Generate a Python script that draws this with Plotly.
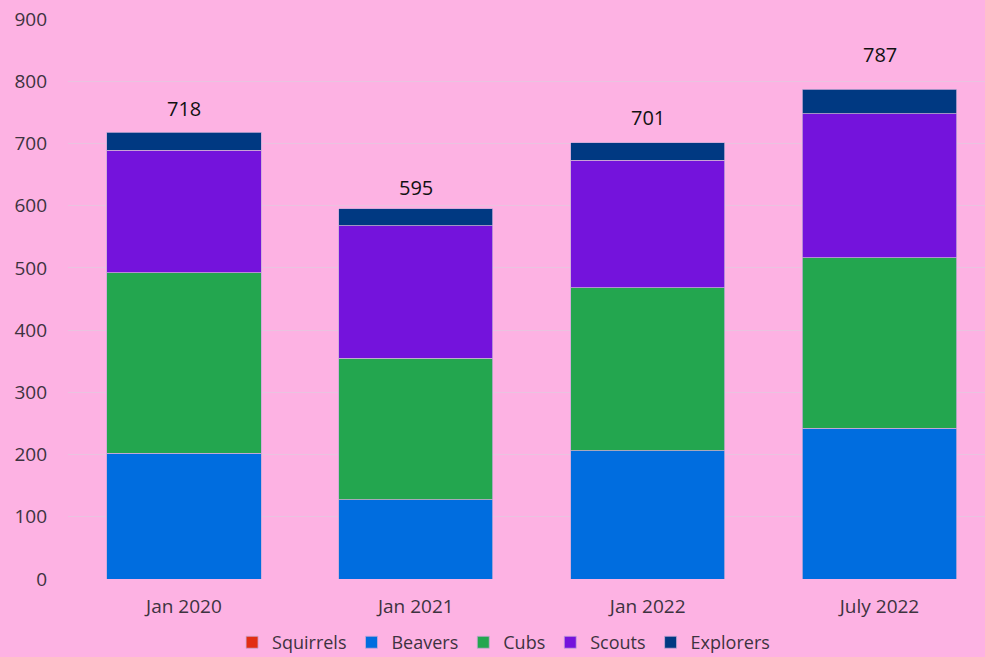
import plotly.graph_objects as go

categories = ["Jan 2020", "Jan 2021", "Jan 2022", "July 2022"]
squirrels = [0, 0, 0, 0]
beavers = [202, 127, 206, 242]
cubs = [290, 228, 262, 274]
scouts = [197, 213, 205, 232]
explorers = [29, 27, 28, 39]

series = [
    ("Squirrels", squirrels, "#E22E12"),
    ("Beavers", beavers, "#006DDF"),
    ("Cubs", cubs, "#23A64F"),
    ("Scouts", scouts, "#7413DC"),
    ("Explorers", explorers, "#003982"),
]

totals = [sum(v) for v in zip(squirrels, beavers, cubs, scouts, explorers)]
label_shift = [24, 21, 25, 35]

FONT = "Open Sans"
TICK = "#3d3340"
fig = go.Figure()
for name, vals, col in series:
    fig.add_trace(go.Bar(
        x=categories, y=vals, name=name,
        marker=dict(color=col, line=dict(color="#C9A9D6", width=0.8)),
        width=0.665,
    ))

for c, t, s in zip(categories, totals, label_shift):
    fig.add_annotation(x=c, y=t, text=str(t), showarrow=False,
                       yanchor="middle", yshift=s,
                       font=dict(family=FONT, size=20, color="#111111"))

fig.update_layout(
    barmode="stack",
    width=985, height=657,
    paper_bgcolor="#FDB2E3",
    plot_bgcolor="#FDB2E3",
    margin=dict(l=68, r=0, t=19, b=78),
    font=dict(family=FONT, size=19, color=TICK),
    xaxis=dict(type="category", range=[-0.5, 3.455], showgrid=False,
               showline=False, ticks="", ticklabelstandoff=14, automargin=False,
               tickfont=dict(size=19, color=TICK)),
    yaxis=dict(range=[0, 900], dtick=100, showgrid=True, gridcolor="#EAC3E0",
               gridwidth=1, zeroline=False, showline=False, ticks="", automargin=False,
               tickfont=dict(size=19, color=TICK), ticklabelstandoff=20),
    legend=dict(orientation="h", x=0.475, xanchor="center",
                yref="container", y=0.022, yanchor="middle",
                traceorder="normal", font=dict(size=18, color=TICK),
                bgcolor="rgba(0,0,0,0)", itemwidth=30),
    showlegend=True,
)

fig.write_html("out.html", config={"displayModeBar": False})
with open("out.html", encoding="utf-8") as f:
    html = f.read()
html = html.replace("<head>", "<head><style>html,body{margin:0;padding:0;overflow:hidden;}</style>", 1)
with open("out.html", "w", encoding="utf-8") as f:
    f.write(html)
